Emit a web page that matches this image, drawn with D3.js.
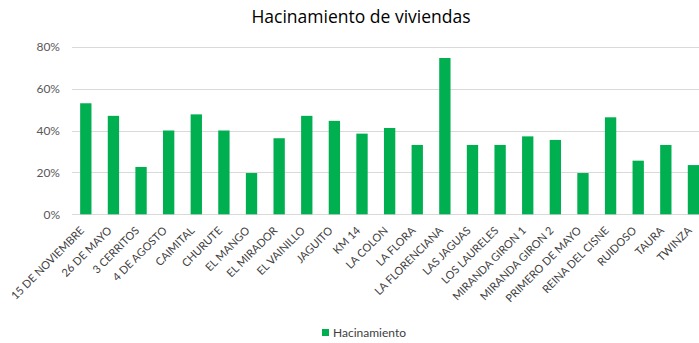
<!DOCTYPE html>
<html>
<head>
<meta charset="utf-8">
<script src="https://cdn.jsdelivr.net/npm/d3@7/dist/d3.min.js"></script>
<style>
  html, body { margin: 0; padding: 0; background: #fff; }
  svg { display: block; font-family: Lato, "Open Sans", sans-serif; }
</style>
</head>
<body>
<svg id="chart" width="699" height="343"></svg>
<script>
// Barrios / comunidades
const categories = [
  "15 DE NOVIEMBRE", "26 DE MAYO", "3 CERRITOS", "4 DE AGOSTO", "CAIMITAL",
  "CHURUTE", "EL MANGO", "EL MIRADOR", "EL VAINILLO", "JAGUITO", "KM 14",
  "LA COLON", "LA FLORA", "LA FLORENCIANA", "LAS JAGUAS", "LOS LAURELES",
  "MIRANDA GIRON 1", "MIRANDA GIRON 2", "PRIMERO DE MAYO", "REINA DEL CISNE",
  "RUIDOSO", "TAURA", "TWINZA"
];
// Porcentaje de hacinamiento por comunidad
const hacinamiento = [
  0.53, 0.47, 0.226, 0.40, 0.477,
  0.40, 0.197, 0.363, 0.47, 0.446, 0.385,
  0.412, 0.331, 0.746, 0.331, 0.331,
  0.372, 0.355, 0.197, 0.463,
  0.256, 0.331, 0.235
];
const yTicks = [0, 0.2, 0.4, 0.6, 0.8];
const seriesName = "Hacinamiento";
const chartTitle = "Hacinamiento de viviendas";

const svg = d3.select("#chart");
const left = 72, step = 27.62;
const x = d3.scaleBand()
  .domain(categories)
  .range([left, left + step * categories.length])
  .paddingInner(0.59)
  .paddingOuter(0.295);
const y = d3.scaleLinear().domain([0, 0.8]).range([214.3, 46.7]);

// Title
svg.append("text")
  .attr("x", 361).attr("y", 23)
  .attr("text-anchor", "middle")
  .attr("font-family", "'Open Sans', sans-serif")
  .attr("font-size", 17.5)
  .attr("fill", "#000")
  .text(chartTitle);

// Gridlines
svg.append("g")
  .selectAll("line")
  .data(yTicks)
  .join("line")
  .attr("x1", left).attr("x2", 699)
  .attr("y1", d => Math.round(y(d)) + 0.5)
  .attr("y2", d => Math.round(y(d)) + 0.5)
  .attr("stroke", "#d9d9d9")
  .attr("stroke-width", 1);

// Y axis labels
const yAxis = d3.axisLeft(y).tickValues(yTicks).tickFormat(d3.format(".0%")).tickSize(0).tickPadding(12);
svg.append("g")
  .attr("transform", `translate(${left},0)`)
  .call(yAxis)
  .call(g => g.select(".domain").remove())
  .call(g => g.selectAll("text").attr("font-size", 12).attr("fill", "#595959").attr("font-family", "Lato, sans-serif"));

// Bars
svg.append("g")
  .selectAll("rect")
  .data(hacinamiento)
  .join("rect")
  .attr("x", (d, i) => x(categories[i]))
  .attr("width", x.bandwidth())
  .attr("y", d => y(d))
  .attr("height", d => y(0) - y(d))
  .attr("fill", "#00b050");

// X axis labels (rotated)
const xAxis = d3.axisBottom(x).tickSize(0).tickPadding(0);
svg.append("g")
  .attr("transform", `translate(0,${y(0)})`)
  .call(xAxis)
  .call(g => g.select(".domain").remove())
  .call(g => g.selectAll("text")
    .attr("font-size", 11)
    .attr("fill", "#404040")
    .attr("font-family", "Lato, sans-serif")
    .attr("text-anchor", "end")
    .attr("dy", 0)
    .attr("transform", "translate(-1,17) rotate(-45)"));

// Legend
const legend = svg.append("g").attr("transform", "translate(322,329)");
legend.append("rect").attr("width", 7).attr("height", 7).attr("fill", "#00b050");
legend.append("text")
  .attr("x", 11).attr("y", 7.5)
  .attr("font-size", 12)
  .attr("fill", "#404040")
  .text(seriesName);
</script>
</body>
</html>
